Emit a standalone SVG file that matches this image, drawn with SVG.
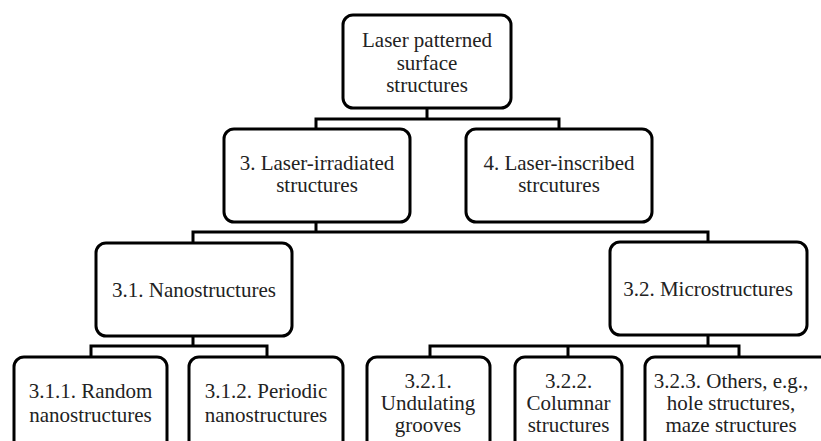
<svg xmlns="http://www.w3.org/2000/svg" width="821" height="441" viewBox="0 0 821 441">
<style>
.box{fill:#fff;stroke:#000;stroke-width:3}
.c{fill:none;stroke:#000;stroke-width:3}
text{font-family:"Liberation Serif","Times New Roman",serif;font-size:21px;fill:#222;text-anchor:middle}
</style>
<rect width="821" height="441" fill="#fff"/>
<g id="connectors">
<path class="c" d="M427 108V119M316 129V119H559V129"/>
<path class="c" d="M316 222V232M193 243V232H708V242"/>
<path class="c" d="M193 336V346M91 357V346H267V357"/>
<path class="c" d="M708 335V346M430 357V346H739V357M568 346V357"/>
</g>
<g id="n0"><rect class="box" x="343" y="15" width="168" height="93" rx="10"/>
<text x="427" y="47">Laser patterned</text><text x="427" y="70">surface</text><text x="427" y="92">structures</text></g>
<g id="n3"><rect class="box" x="224" y="129" width="186" height="93" rx="10"/>
<text x="317" y="170">3. Laser-irradiated</text><text x="317" y="192">structures</text></g>
<g id="n4"><rect class="box" x="466" y="129" width="186" height="93" rx="10"/>
<text x="559" y="170">4. Laser-inscribed</text><text x="559" y="192">strcutures</text></g>
<g id="n31"><rect class="box" x="96" y="243" width="196" height="93" rx="10"/>
<text x="194" y="297">3.1. Nanostructures</text></g>
<g id="n32"><rect class="box" x="610" y="242" width="197" height="93" rx="10"/>
<text x="708" y="296">3.2. Microstructures</text></g>
<g id="n311"><rect class="box" x="14" y="357" width="153" height="100" rx="10"/>
<text x="90.5" y="398">3.1.1. Random</text><text x="90.5" y="422">nanostructures</text></g>
<g id="n312"><rect class="box" x="189" y="357" width="154" height="100" rx="10"/>
<text x="266" y="398">3.1.2. Periodic</text><text x="266" y="422">nanostructures</text></g>
<g id="n321"><rect class="box" x="367" y="357" width="123" height="100" rx="10"/>
<text x="428" y="388">3.2.1.</text><text x="428" y="410">Undulating</text><text x="428" y="432">grooves</text></g>
<g id="n322"><rect class="box" x="515" y="357" width="107" height="100" rx="10"/>
<text x="568.5" y="388">3.2.2.</text><text x="568.5" y="410">Columnar</text><text x="568.5" y="432">structures</text></g>
<g id="n323"><rect class="box" x="645" y="357" width="190" height="100" rx="10"/>
<text x="731" y="388">3.2.3. Others, e.g.,</text><text x="731" y="410">hole structures,</text><text x="731" y="432">maze structures</text></g>
</svg>
